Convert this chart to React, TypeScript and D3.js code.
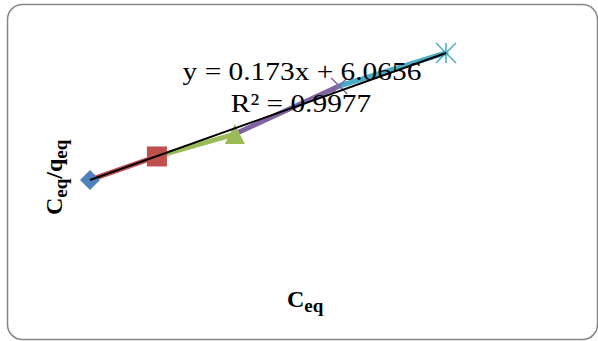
import React, { useEffect, useRef } from 'react';
import * as d3 from 'd3';

// Langmuir-type linearisation: Ceq vs Ceq/qeq, one series per point
const seriesNames = ['S1', 'S2', 'S3', 'S4', 'S5'];
const ceq = [10, 28.8, 50.7, 80, 110];
const ceqOverQeq = [7.8, 11.0, 14.05, 20.6, 25.1];
const seriesColors = ['#4F81BD', '#C0504D', '#9BBB59', '#8064A2', '#4BACC6'];
const markerShapes = ['diamond', 'square', 'triangle', 'x', 'star'];
const trendSlope = 0.173;
const trendIntercept = 6.0656;
const equationLabel = 'y = 0.173x + 6.0656';
const r2Label = 'R² = 0.9977';

const App = () => {
  const ref = useRef<SVGSVGElement>(null);
  const svgWidth = 598;
  const svgHeight = 341;

  useEffect(() => {
    const svg = d3.select(ref.current);
    svg.selectAll('*').remove();

    // Chart frame
    svg.append('rect')
      .attr('x', 7.5)
      .attr('y', 4.5)
      .attr('width', 590)
      .attr('height', 335)
      .attr('rx', 15)
      .attr('fill', '#fff')
      .attr('stroke', '#868686')
      .attr('stroke-width', 1.5);

    // Scales (axes are hidden in the original)
    const xScale = d3.scaleLinear().domain([0, 150]).range([54.4, 54.4 + 150 * 3.56]);
    const yScale = d3.scaleLinear().domain([0, 30]).range([237.22, 237.22 - 30 * 7.341]);

    const pts = ceq.map((x, i) => ({ x, y: ceqOverQeq[i], i }));

    // Segments joining consecutive points, coloured by the later series
    const g = svg.append('g');
    pts.slice(1).forEach((p, k) => {
      const prev = pts[k];
      g.append('line')
        .attr('x1', xScale(prev.x))
        .attr('y1', yScale(prev.y))
        .attr('x2', xScale(p.x))
        .attr('y2', yScale(p.y))
        .attr('stroke', seriesColors[p.i])
        .attr('stroke-width', 5)
        .attr('stroke-linecap', 'round');
    });

    // Markers
    const size = 10;
    pts.forEach(p => {
      const cx = xScale(p.x);
      const cy = yScale(p.y);
      const color = seriesColors[p.i];
      const shape = markerShapes[p.i];
      if (shape === 'diamond') {
        g.append('path')
          .attr('d', `M${cx},${cy - size}L${cx + size},${cy}L${cx},${cy + size}L${cx - size},${cy}Z`)
          .attr('fill', color);
      } else if (shape === 'square') {
        g.append('rect')
          .attr('x', cx - size).attr('y', cy - size)
          .attr('width', size * 2).attr('height', size * 2)
          .attr('fill', color);
      } else if (shape === 'triangle') {
        g.append('path')
          .attr('d', `M${cx},${cy - size}L${cx + size},${cy + size}L${cx - size},${cy + size}Z`)
          .attr('fill', color);
      } else if (shape === 'x') {
        const s = 8;
        g.append('path')
          .attr('d', `M${cx - s},${cy - s}L${cx + s},${cy + s}M${cx - s},${cy + s}L${cx + s},${cy - s}`)
          .attr('stroke', color)
          .attr('stroke-width', 1.5);
      } else {
        const s = 10;
        g.append('path')
          .attr('d', `M${cx - s},${cy - s}L${cx + s},${cy + s}M${cx - s},${cy + s}L${cx + s},${cy - s}M${cx},${cy - s}L${cx},${cy + s}`)
          .attr('stroke', color)
          .attr('stroke-width', 1.5);
      }
    });

    // Linear trendline over the data range
    const [xMin, xMax] = d3.extent(ceq) as [number, number];
    svg.append('line')
      .attr('x1', xScale(xMin))
      .attr('y1', yScale(trendSlope * xMin + trendIntercept))
      .attr('x2', xScale(xMax))
      .attr('y2', yScale(trendSlope * xMax + trendIntercept))
      .attr('stroke', '#000')
      .attr('stroke-width', 2);

    // Trendline label (the source text is a little wider than plain Times)
    const serif = '"Liberation Serif", "Times New Roman", serif';
    const label = svg.append('g')
      .attr('font-family', serif)
      .attr('font-size', 26)
      .attr('fill', '#000')
      .attr('text-anchor', 'middle');
    label.append('text').attr('transform', 'translate(302,80) scale(1.13,1)').text(equationLabel);
    label.append('text').attr('transform', 'translate(301,112) scale(1.13,1)').text(r2Label);

    // Axis titles
    const xTitle = svg.append('text')
      .attr('x', 287)
      .attr('y', 307)
      .attr('font-family', serif)
      .attr('font-weight', 'bold')
      .attr('font-size', 24);
    xTitle.append('tspan').text('C');
    xTitle.append('tspan').attr('font-size', 19).attr('dy', 5).text('eq');

    const yTitle = svg.append('text')
      .attr('transform', 'translate(62,215) rotate(-90)')
      .attr('font-family', serif)
      .attr('font-weight', 'bold')
      .attr('font-size', 24);
    yTitle.append('tspan').text('C');
    yTitle.append('tspan').attr('font-size', 19).attr('dy', 5).text('eq');
    yTitle.append('tspan').attr('dy', -5).text('/q');
    yTitle.append('tspan').attr('font-size', 19).attr('dy', 5).text('eq');
  }, []);

  return (
    <svg
      ref={ref}
      width={svgWidth}
      height={svgHeight}
      style={{ position: 'absolute', left: 0, top: 0 }}
      data-series={seriesNames.join(',')}
    />
  );
};

export default App;
